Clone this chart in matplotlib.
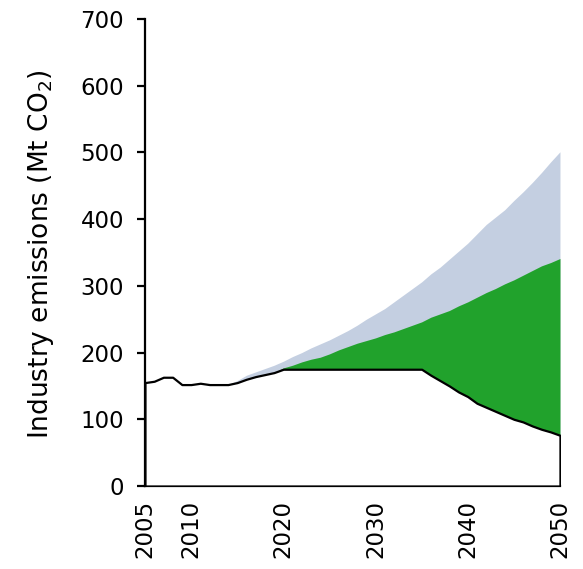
import matplotlib.pyplot as plt

years = list(range(2005, 2051))

# black line (lower edge of the green wedge)
baseline = [155, 157, 163, 163, 152, 152, 154, 152, 152, 152,
            155, 160, 164, 167, 170, 175, 175, 175, 175, 175,
            175, 175, 175, 175, 175, 175, 175, 175, 175, 175,
            175, 166, 158, 150, 141, 134, 124, 118, 112, 106,
            100, 96, 90, 85, 81, 76]

# upper edge of the green area, 2019-2050
green_start = 2019
green_top = [170, 177, 181, 186, 190, 193, 198, 204, 209, 214,
             218, 222, 227, 231, 236, 241, 246, 253, 258, 263,
             270, 276, 283, 290, 296, 303, 309, 316, 323, 330,
             335, 341]

# upper edge of the grey-blue area, 2014-2050
blue_start = 2014
blue_top = [152, 158, 166, 171, 176, 181, 187, 194, 200, 207,
            213, 219, 226, 233, 241, 250, 258, 266, 276, 286,
            296, 306, 318, 328, 340, 352, 364, 378, 392, 403,
            414, 428, 441, 455, 470, 486, 501]

xtick_years = [2005, 2010, 2020, 2030, 2040, 2050]


def create_chart():
    fig = plt.figure(figsize=(5.83, 5.69), dpi=100)
    ax = fig.add_axes([0.2487, 0.1459, 0.7118, 0.8207])

    i_blue = years.index(blue_start)
    i_green = years.index(green_start)

    ax.fill_between(years[i_blue:], baseline[i_blue:], blue_top,
                    color='#c4cfe1', linewidth=0)
    ax.fill_between(years[i_green:], baseline[i_green:], green_top,
                    color='#21a22c', linewidth=0)
    # white area under the black line, outlined in black
    ax.fill_between(years, 0, baseline, facecolor='white',
                    edgecolor='black', linewidth=1.6, zorder=3)

    ax.set_xlim(2005, 2050)
    ax.set_ylim(0, 700)
    ax.set_xticks(xtick_years)
    ax.set_xticklabels([str(y) for y in xtick_years], rotation=90)
    ax.set_yticks(range(0, 701, 100))

    ax.spines['top'].set_visible(False)
    ax.spines['right'].set_visible(False)
    for s in ['left', 'bottom']:
        ax.spines[s].set_linewidth(1.6)

    ax.tick_params(axis='y', direction='out', length=6, width=1.6,
                   pad=9, labelsize=16.5)
    ax.tick_params(axis='x', length=0, pad=10, labelsize=16.5)

    ax.set_ylabel('Industry emissions (Mt CO$_2$)', fontsize=19)
    ax.yaxis.set_label_coords(-0.215, 0.497)

    fig.savefig('out.png', dpi=100)


if __name__ == "__main__":
    create_chart()
